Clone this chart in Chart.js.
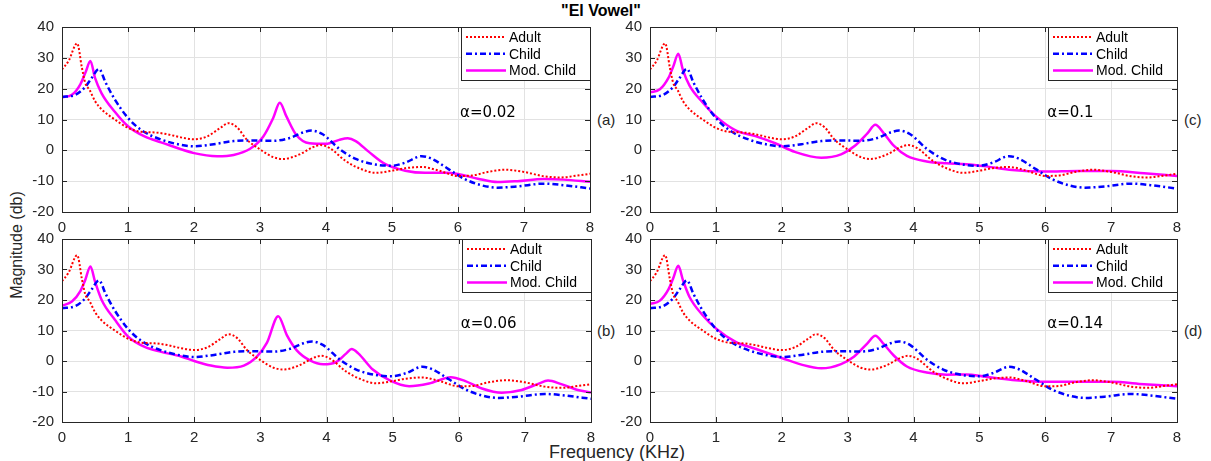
<!DOCTYPE html>
<html>
<head>
<meta charset="utf-8">
<script src="https://cdn.jsdelivr.net/npm/chart.js@4.4.1/dist/chart.umd.min.js"></script>
<style>
    body { margin: 0; background: #fff; width: 1211px; height: 461px; position: relative; overflow: hidden;
           font-family: "Liberation Sans", Arial, sans-serif; color: #262626; }
    canvas { position: absolute; }
    .txt { position: absolute; white-space: nowrap; line-height: 1; }
    #title { left: 601px; top: 3px; transform: translateX(-50%); font-weight: bold; font-size: 16px; color: #000; }
    #ylabel { left: 17px; top: 245px; transform: translate(-50%, -50%) rotate(-90deg); font-size: 16px; }
    #xlabel { left: 617px; top: 443px; transform: translateX(-50%); font-size: 18px; }
    .tag { font-size: 15px; transform: translateY(-50%); }
</style>
</head>
<body>
<div id="title" class="txt">"El Vowel"</div>
<div id="ylabel" class="txt">Magnitude (db)</div>
<div id="xlabel" class="txt">Frequency (KHz)</div>
<div class="txt tag" style="left:597px; top:119px;">(a)</div>
<div class="txt tag" style="left:1184px; top:119px;">(c)</div>
<div class="txt tag" style="left:597px; top:330px;">(b)</div>
<div class="txt tag" style="left:1184px; top:330px;">(d)</div>

<script>
// Adult (same in all panels)
const adultFreq = [0, 0.1, 0.23, 0.3, 0.35, 0.42, 0.5, 0.6, 0.8, 1.0, 1.2, 1.4, 1.6, 1.8, 2.0, 2.2, 2.4, 2.52, 2.65, 2.8, 3.0,
    3.2, 3.35, 3.6, 3.8, 3.92, 4.05, 4.3, 4.5, 4.75, 5.0, 5.2, 5.45, 5.7, 6.0, 6.2, 6.45, 6.72, 7.0, 7.3, 7.55, 7.8, 8.0];
const adultMag = [26.2, 29, 34.7, 27, 22, 19.5, 16, 13.3, 10, 7.3, 6, 5.8, 5.2, 4.2, 3.6, 4.5, 7.3, 8.8, 7.5, 3.5, 0.3,
    -2.2, -2.8, -1.3, 1, 1.7, 0.8, -3.5, -5.8, -7.3, -6.6, -5.8, -5.4, -6.5, -8.3, -8.2, -7, -6.3, -7, -8.4, -8.8, -8.2, -7.6];

// Child (same in all panels)
const childFreq = [0, 0.2, 0.35, 0.45, 0.56, 0.66, 0.8, 1.0, 1.2, 1.5, 1.8, 2.0, 2.3, 2.6, 2.9, 3.2, 3.45, 3.65, 3.78,
    3.95, 4.2, 4.45, 4.75, 5.0, 5.2, 5.45, 5.6, 5.85, 6.1, 6.35, 6.6, 6.9, 7.3, 7.6, 8.0];
const childMag = [17.3, 18, 20.5, 23.5, 26.4, 22, 16.5, 10.5, 6.6, 3.5, 1.8, 1.3, 2, 3, 3.2, 3.1, 4, 5.8, 6.4,
    5.2, 0.5, -2.8, -4.6, -5, -4, -1.9, -2.7, -6, -9.3, -11.3, -12.1, -11.7, -10.8, -11.3, -12.4];

// Mod. Child, one curve per alpha
const modFreqA = [0, 0.15, 0.28, 0.36, 0.43, 0.5, 0.6, 0.8, 1.0, 1.25, 1.5, 2.0, 2.35, 2.6, 2.85, 3.05, 3.2, 3.3, 3.4,
    3.55, 3.75, 4.0, 4.2, 4.33, 4.45, 4.65, 4.9, 5.2, 5.5, 5.8, 6.0, 6.3, 6.6, 6.9, 7.3, 7.6, 8.0];
const modMagA = [17.2, 18, 21.5, 25.5, 29, 23.5, 18.5, 12.5, 7.8, 4.5, 2.6, -0.9, -1.9, -1.5, 0.5, 4.5, 10.5, 15.4, 11,
    5, 2.3, 2.1, 3.4, 3.9, 3, -0.5, -4.5, -6.6, -7.3, -7.3, -7.7, -9.2, -10.3, -10, -9.3, -9.5, -10.2];

const modFreqB = [0, 0.15, 0.28, 0.35, 0.43, 0.5, 0.6, 0.8, 1.0, 1.25, 1.5, 1.8, 2.0, 2.25, 2.5, 2.75, 2.95, 3.1, 3.27,
    3.4, 3.55, 3.75, 3.95, 4.15, 4.3, 4.38, 4.48, 4.7, 4.95, 5.25, 5.55, 5.88, 6.1, 6.35, 6.65, 6.95, 7.2, 7.35, 7.55, 7.8, 8.0];
const modMagB = [18.1, 19.5, 23, 26.5, 31, 26, 20, 13.5, 8, 4.6, 3, 1.5, 0, -1.5, -2.2, -1.5, 1.5, 6, 14.7,
    8.5, 3.5, 0.2, -1.1, -0.3, 2.5, 3.9, 2.5, -2.8, -6.3, -8.3, -7.4, -5.3, -6.6, -9, -10.4, -9.5, -7.5, -6.4, -7.6, -9.5, -10.3];

const modFreqC = [0, 0.15, 0.28, 0.35, 0.43, 0.5, 0.6, 0.8, 1.0, 1.3, 1.6, 1.9, 2.2, 2.6, 2.9, 3.1, 3.3, 3.42, 3.55,
    3.7, 3.9, 4.2, 4.5, 4.8, 5.1, 5.5, 6.0, 6.5, 7.0, 7.5, 8.0];
const modMagC = [18.8, 19.8, 23.5, 27, 31.3, 26, 21, 15.5, 11, 6.5, 4.6, 2.3, -0.5, -2.4, -1.3, 1.3, 5.5, 8.3, 5.5,
    1.5, -1.8, -3.6, -4.2, -4.5, -5.2, -6.4, -6.9, -6.7, -6.7, -7.4, -8.3];

const modFreqD = [0, 0.15, 0.28, 0.35, 0.43, 0.5, 0.6, 0.8, 1.0, 1.3, 1.6, 2.0, 2.3, 2.6, 2.9, 3.1, 3.3, 3.42, 3.55,
    3.7, 3.9, 4.2, 4.5, 4.8, 5.1, 5.5, 6.0, 6.5, 7.0, 7.5, 8.0];
const modMagD = [18.7, 19.8, 23.5, 27, 31.2, 26.5, 21, 15, 10.7, 6.3, 4, 1, -1.2, -2.4, -1, 1.5, 5.8, 8.3, 5.5,
    1.8, -1.8, -3.8, -4.5, -4.4, -5.2, -6.2, -6.8, -6.8, -6.8, -7.6, -8.3];

const panels = [
    { id: 'a', alpha: '0.02', freq: modFreqA, mag: modMagA, left: 62, top: 27, right: 590, bottom: 212 },
    { id: 'c', alpha: '0.1', freq: modFreqC, mag: modMagC, left: 650, top: 27, right: 1177, bottom: 212 },
    { id: 'b', alpha: '0.06', freq: modFreqB, mag: modMagB, left: 62, top: 239, right: 591, bottom: 422 },
    { id: 'd', alpha: '0.14', freq: modFreqD, mag: modMagD, left: 650, top: 239, right: 1177, bottom: 422 },
];

const AXIS_COLOR = '#262626';
const Y_AXIS_W = 50;
const X_AXIS_H = 28;
const PAD_TOP = 10;
const PAD_RIGHT = 6;

const series = [
    { label: 'Adult', color: '#ff0000', width: 2, dash: [2, 2] },
    { label: 'Child', color: '#0000ff', width: 2.5, dash: [6, 3, 2, 3] },
    { label: 'Mod. Child', color: '#ff00ff', width: 2.5, dash: [] },
];

function toPoints(freq, mag) {
    return freq.map((f, i) => ({ x: f, y: mag[i] }));
}

// box, inward ticks, legend and alpha note, drawn over the lines
const framePlugin = {
    id: 'frame',
    afterDatasetsDraw(chart, args, opts) {
        const { ctx, chartArea: a, scales } = chart;
        ctx.save();
        ctx.strokeStyle = AXIS_COLOR;
        ctx.lineWidth = 1;
        ctx.setLineDash([]);

        const tick = 5;
        ctx.beginPath();
        scales.x.ticks.forEach(t => {
            const px = Math.round(scales.x.getPixelForValue(t.value)) + 0.5;
            ctx.moveTo(px, a.bottom); ctx.lineTo(px, a.bottom - tick);
            ctx.moveTo(px, a.top); ctx.lineTo(px, a.top + tick);
        });
        scales.y.ticks.forEach(t => {
            const py = Math.round(scales.y.getPixelForValue(t.value)) + 0.5;
            ctx.moveTo(a.left, py); ctx.lineTo(a.left + tick, py);
            ctx.moveTo(a.right, py); ctx.lineTo(a.right - tick, py);
        });
        ctx.stroke();
        ctx.strokeRect(Math.round(a.left) + 0.5, Math.round(a.top) + 0.5,
            Math.round(a.right - a.left), Math.round(a.bottom - a.top));

        // alpha note
        ctx.fillStyle = '#000';
        ctx.font = '15px "DejaVu Sans"';
        ctx.textBaseline = 'middle';
        ctx.textAlign = 'left';
        ctx.fillText('\u03b1=' + opts.alpha, scales.x.getPixelForValue(6.03), scales.y.getPixelForValue(12));

        // legend box
        const bw = 129, bh = 53;
        const bx = Math.round(a.right) - bw, by = Math.round(a.top);
        ctx.fillStyle = '#fff';
        ctx.fillRect(bx, by, bw, bh);
        ctx.strokeStyle = AXIS_COLOR;
        ctx.strokeRect(bx + 0.5, by + 0.5, bw, bh);
        ctx.font = '14px "Liberation Sans", Arial, sans-serif';
        series.forEach((s, i) => {
            const ly = by + 10 + i * 16.7;
            ctx.strokeStyle = s.color;
            ctx.lineWidth = s.width;
            ctx.setLineDash(s.dash);
            ctx.beginPath();
            ctx.moveTo(bx + 5, ly);
            ctx.lineTo(bx + 45, ly);
            ctx.stroke();
            ctx.fillStyle = '#000';
            ctx.fillText(s.label, bx + 48, ly + 1);
        });
        ctx.restore();
    },
};

panels.forEach(p => {
    const canvas = document.createElement('canvas');
    const plotW = p.right - p.left;
    const plotH = p.bottom - p.top;
    const w = plotW + Y_AXIS_W + PAD_RIGHT;
    const h = plotH + PAD_TOP + X_AXIS_H;
    canvas.width = w;
    canvas.height = h;
    canvas.style.width = w + 'px';
    canvas.style.height = h + 'px';
    document.body.appendChild(canvas);

    const curves = [toPoints(adultFreq, adultMag), toPoints(childFreq, childMag), toPoints(p.freq, p.mag)];

    const chart = new Chart(canvas, {
        type: 'line',
        data: {
            datasets: series.map((s, i) => ({
                label: s.label,
                data: curves[i],
                borderColor: s.color,
                borderWidth: s.width,
                borderDash: s.dash,
                borderCapStyle: 'butt',
                pointRadius: 0,
                fill: false,
                cubicInterpolationMode: 'monotone',
            })),
        },
        options: {
            responsive: false,
            maintainAspectRatio: false,
            animation: false,
            devicePixelRatio: 1,
            layout: { padding: { top: PAD_TOP, right: PAD_RIGHT, left: 0, bottom: 0 } },
            scales: {
                x: {
                    type: 'linear',
                    min: 0,
                    max: 8,
                    ticks: {
                        stepSize: 1,
                        autoSkip: false,
                        maxRotation: 0,
                        padding: 7,
                        color: AXIS_COLOR,
                        font: { family: '"Liberation Sans", Arial, sans-serif', size: 15 },
                    },
                    grid: { color: '#e2e2e2', drawTicks: false },
                    border: { display: false },
                    afterFit: scale => { scale.height = X_AXIS_H; },
                },
                y: {
                    min: -20,
                    max: 40,
                    ticks: {
                        stepSize: 10,
                        autoSkip: false,
                        padding: 8,
                        color: AXIS_COLOR,
                        font: { family: '"Liberation Sans", Arial, sans-serif', size: 15 },
                    },
                    grid: { color: '#e2e2e2', drawTicks: false },
                    border: { display: false },
                    afterFit: scale => { scale.width = Y_AXIS_W; },
                },
            },
            plugins: {
                legend: { display: false },
                tooltip: { enabled: false },
                frame: { alpha: p.alpha },
            },
        },
        plugins: [framePlugin],
    });

    // make the plot area land exactly on the target box
    let ca = chart.chartArea;
    const dw = plotW - (ca.right - ca.left);
    const dh = plotH - (ca.bottom - ca.top);
    if (dw !== 0 || dh !== 0) {
        chart.resize(w + dw, h + dh);
        ca = chart.chartArea;
    }
    canvas.style.left = (p.left - ca.left) + 'px';
    canvas.style.top = (p.top - ca.top) + 'px';
});
</script>
</body>
</html>
